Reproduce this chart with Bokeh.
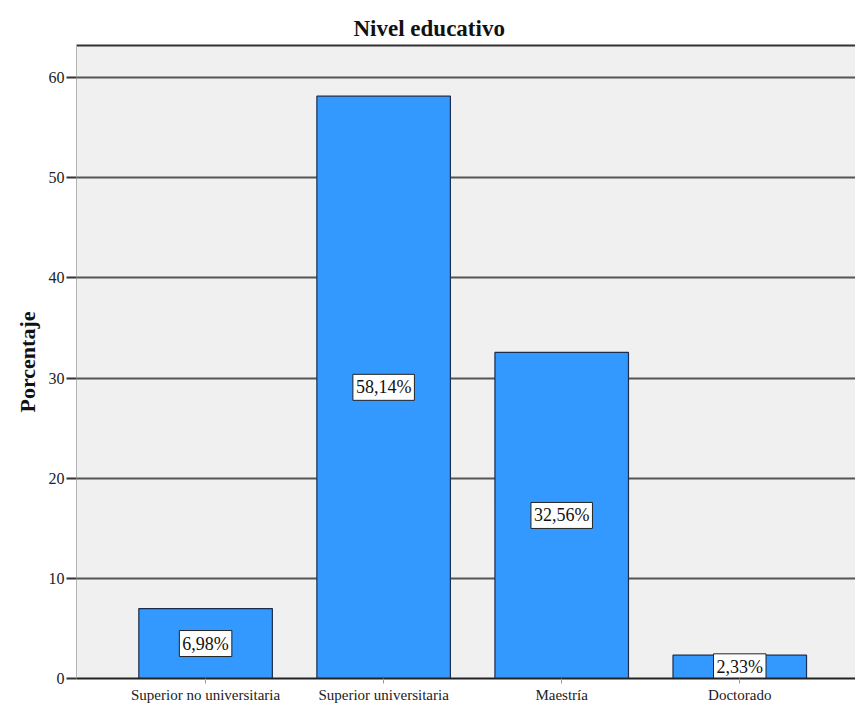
from bokeh.plotting import figure
from bokeh.models import ColumnDataSource, LinearAxis, FixedTicker, Range1d
from bokeh.core.properties import value
from bokeh.embed import file_html
from bokeh.resources import INLINE

# Distribución por nivel educativo (porcentaje)
categorias = ["Superior no universitaria", "Superior universitaria", "Maestría", "Doctorado"]
porcentajes = [6.98, 58.14, 32.56, 2.33]
y_ticks = [0, 10, 20, 30, 40, 50, 60]

SERIF = "Liberation Serif"

posiciones = list(range(len(categorias)))
etiquetas = [f"{v:.2f}".replace(".", ",") + "%" for v in porcentajes]
source = ColumnDataSource(dict(
    x=posiciones,
    top=porcentajes,
    mid=[v / 2 for v in porcentajes],
    label=etiquetas,
))

p = figure(
    width=855, height=709,
    output_backend="svg", toolbar_location=None,
    x_range=Range1d(-0.725, 3.65), y_range=Range1d(0, 63.2),
    min_border_left=76, min_border_right=0, min_border_top=45, min_border_bottom=31,
    title="Nivel educativo",
)
p.background_fill_color = "#f0f0f0"
p.border_fill_color = "white"
p.outline_line_color = None

# Título centrado respecto al ancho total de la figura
p.title.align = "left"
p.title.offset = 277
p.title.text_font = SERIF
p.title.text_font_size = "23px"
p.title.text_font_style = "bold"
p.title.text_color = "#111111"

p.vbar(x="x", top="top", width=0.75, bottom=0, source=source,
       fill_color="#3399ff", line_color="#1c2c4c", line_width=1.2)

# Etiquetas de valor en caja blanca
p.text(x="x", y="mid", text="label", source=source,
       text_align="center", text_baseline="middle",
       text_font=value(SERIF), text_font_size="18px", text_color="#111111",
       background_fill_color="white", border_line_color="#222222",
       border_line_width=1, padding=3)

# Eje Y
p.yaxis.ticker = FixedTicker(ticks=y_ticks)
p.yaxis.axis_label = "Porcentaje"
p.yaxis.axis_label_text_font = SERIF
p.yaxis.axis_label_text_font_size = "22px"
p.yaxis.axis_label_text_font_style = "bold"
p.yaxis.axis_label_text_color = "#111111"
p.yaxis.axis_label_standoff = 6
p.yaxis.major_label_text_font = SERIF
p.yaxis.major_label_text_font_size = "16px"
p.yaxis.major_label_text_color = "#222222"
p.yaxis.axis_line_color = "#b4b4b4"
p.yaxis.major_tick_line_color = "#333333"
p.yaxis.major_tick_line_width = 2
p.yaxis.major_tick_out = 10
p.yaxis.major_tick_in = 0
p.yaxis.minor_tick_line_color = None
p.yaxis.major_label_standoff = 2

# Eje X
p.xaxis.ticker = FixedTicker(ticks=posiciones)
p.xaxis.major_label_overrides = {i: c for i, c in zip(posiciones, categorias)}
p.xaxis.major_label_text_font = SERIF
p.xaxis.major_label_text_font_size = "15px"
p.xaxis.major_label_text_color = "#222222"
p.xaxis.axis_line_color = "#222222"
p.xaxis.axis_line_width = 2
p.xaxis.major_tick_line_color = "#999999"
p.xaxis.major_tick_out = 5
p.xaxis.major_tick_in = 0
p.xaxis.minor_tick_line_color = None
p.xaxis.major_label_standoff = 3

# Línea superior del marco
top_axis = LinearAxis(
    ticker=FixedTicker(ticks=[]),
    axis_line_color="#333333", axis_line_width=2,
    major_tick_line_color=None, minor_tick_line_color=None,
)
p.add_layout(top_axis, "above")

# Rejilla
p.xgrid.grid_line_color = None
p.ygrid.ticker = FixedTicker(ticks=y_ticks)
p.ygrid.grid_line_color = "#555555"
p.ygrid.grid_line_width = 2

open("out.html", "w").write(file_html(p, INLINE))
